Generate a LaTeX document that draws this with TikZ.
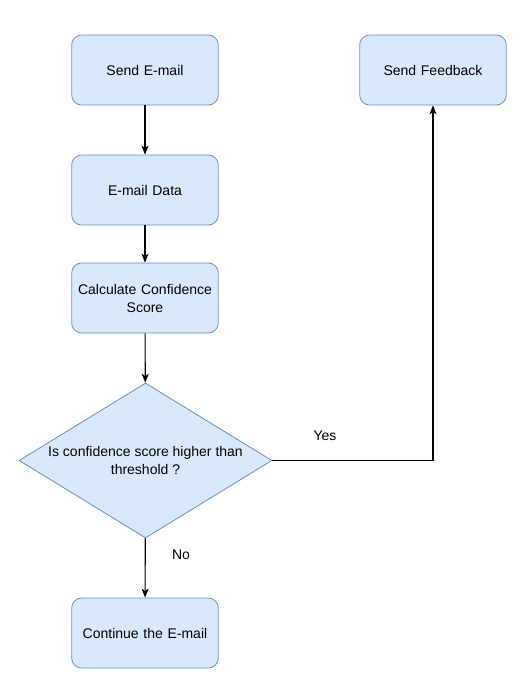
\documentclass[tikz,border=0pt]{standalone}
\usepackage{fontspec}
\setmainfont{Liberation Sans}
\usetikzlibrary{shapes.geometric,arrows.meta}
\definecolor{boxfill}{HTML}{DAE8FC}
\definecolor{boxline}{HTML}{6C8EBF}
\tikzset{
  x=1pt,y=-1pt,
  stepbox/.style={draw=boxline,fill=boxfill,rounded corners=10pt,minimum width=144pt,minimum height=70pt,align=center,text width=140pt,font=\fontsize{14}{18}\selectfont,line width=0.8pt},
  decision/.style={draw=boxline,fill=boxfill,diamond,minimum width=253pt,minimum height=155pt,inner sep=0pt,line width=0.8pt},
  conn/.style={line width=1.1pt,-{Stealth[length=9pt,width=7pt,inset=2.5pt]}},
  lbl/.style={font=\fontsize{14}{18}\selectfont}
}
\begin{document}
\begin{tikzpicture}
\useasboundingbox (0,0) rectangle (530,683);
\node[stepbox] (send) at (145,70) {Send E-mail};
\node[stepbox] (data) at (145,190) {E-mail Data};
\node[stepbox] (calc) at (145,298) {Calculate Confidence\\Score};
\node[decision] (dec) at (145.5,460.5) {};
\node[lbl,align=center] (dectext) at (145.5,460) {Is confidence score higher than\\threshold ?};
\node[stepbox] (cont) at (145,633) {Continue the E-mail};
\node[stepbox] (fb) at (433,70) {Send Feedback};
\draw[conn] (send) -- (data);
\draw[conn] (data) -- (calc);
\draw[conn] (calc) -- (dec);
\draw[conn] (dec) -- (cont);
\draw[conn] (dec.east) -| (fb.south);
\node[lbl] (yes) at (325,436) {Yes};
\node[lbl] (no) at (181,555) {No};
\end{tikzpicture}
\end{document}
